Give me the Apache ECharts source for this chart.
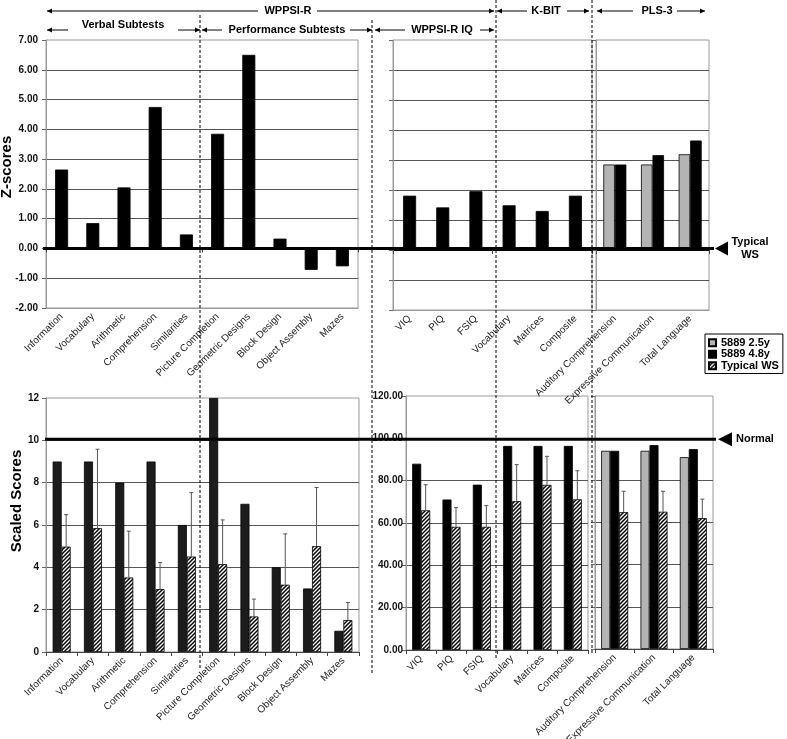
<!DOCTYPE html>
<html><head><meta charset="utf-8">
<script src="https://cdn.jsdelivr.net/npm/echarts@6/dist/echarts.min.js"></script>
<style>html,body{margin:0;padding:0;background:#fff}#c{width:787px;height:739px}</style>
</head><body><div id="c"></div>
<script>
// ---- categories ----
const subtests = ['Information','Vocabulary','Arithmetic','Comprehension','Similarities','Picture Completion','Geometric Designs','Block Design','Object Assembly','Mazes'];
const iqTests = ['VIQ','PIQ','FSIQ','Vocabulary','Matrices','Composite'];
const plsTests = ['Auditory Comprehension','Expressive Communication','Total Language'];
const seriesNames = ['5889 2.5y','5889 4.8y','Typical WS'];

// ---- Z-scores (top) ----
const zSub48 = [2.65,0.85,2.05,4.75,0.47,3.85,6.5,0.33,-0.72,-0.6];
const zIq48 = [1.81,1.42,1.96,1.49,1.30,1.81];
const zPls25 = [2.85,2.85,3.19];
const zPls48 = [2.85,3.16,3.65];

// ---- Scaled / standard scores (bottom) ----
const sSub48 = [9,9,8,9,6,12,7,4,3,1];
const sSubWS = [4.98,5.85,3.52,2.97,4.51,4.15,1.68,3.18,5.0,1.51];
const sSubWSHi = [6.49,9.58,5.71,4.23,7.53,6.24,2.5,5.58,7.77,2.34];
const sIq48 = [88.0,71.1,78.1,96.4,96.4,96.4];
const sIqWS = [66.0,58.2,58.2,70.3,78.0,71.2];
const sIqWSHi = [78.1,67.3,68.2,87.6,91.5,84.7];
const sPls25 = [94,94,91];
const sPls48 = [94,96.7,94.8];
const sPlsWS = [64.9,65.1,62.1];
const sPlsWSHi = [74.8,74.8,71.1];

// ---- axis ranges / reference levels ----
const zRange = [-2,7,1];
const scaledRange = [0,12,2];
const stdRange = [0,120,20];
const typicalZ = 0, normalScaled = 10, normalStd = 100;

const FONT = "'Liberation Sans', Arial, sans-serif";
const frameCol = '#9a9a9a', splitCol = '#555';
const BLACK = '#000', DARK = '#1c1c1c', GREY = '#b4b4b4';

function hatch(){
  const c=document.createElement('canvas'); c.width=4; c.height=4;
  const g=c.getContext('2d'); g.fillStyle='#fff'; g.fillRect(0,0,4,4);
  g.strokeStyle='#000'; g.lineWidth=1.5; g.beginPath();
  g.moveTo(0,4); g.lineTo(4,0); g.moveTo(-1,1); g.lineTo(1,-1); g.moveTo(3,5); g.lineTo(5,3);
  g.stroke(); return c;
}
const HATCH = {image:hatch(), repeat:'repeat'};

const gridDefs = [
  {left:46, top:40, width:312, height:268},
  {left:393, top:40, width:199, height:270},
  {left:596, top:40, width:113, height:270},
  {left:46, top:398, width:313, height:254},
  {left:406, top:396, width:182, height:254},
  {left:595, top:396, width:118, height:253}
];
const grid = gridDefs.map(g=>Object.assign({show:true, borderColor:frameCol, borderWidth:1, backgroundColor:'#fff', containLabel:false, outerBoundsMode:'none'}, g));

const cats = [subtests, iqTests, plsTests, subtests, iqTests, plsTests];
const xAxis = cats.map((data,gi)=>({
  type:'category', gridIndex:gi, data, position:'bottom',
  axisLine:{onZero:false, lineStyle:{color: gi<3 ? frameCol : '#444'}},
  axisTick:{show: gi>=3, alignWithLabel:false, length:4, lineStyle:{color:'#444'}},
  axisLabel:{interval:0, rotate:45, margin:7, fontFamily:FONT, fontSize:10, color:'#222'},
  splitLine:{show:false}
}));
[0,1,2].forEach(gi=>xAxis.push({
  type:'category', gridIndex:gi, data:cats[gi], position:'top',
  axisLine:{onZero:true, lineStyle:{color:'#000', width:2}},
  axisTick:{show:true, inside:true, length:4, alignWithLabel:false, lineStyle:{color:'#444'}},
  axisLabel:{show:false}, splitLine:{show:false}
}));

function yAx(gi, r, showLab, fmt, margin){
  return {type:'value', gridIndex:gi, min:r[0], max:r[1], interval:r[2],
    axisLine:{show:true, lineStyle:{color:frameCol}},
    axisTick:{show:true, length:4, lineStyle:{color:'#666'}},
    splitLine:{show:true, showMinLine:false, showMaxLine:false, lineStyle:{color:splitCol, width:1}},
    axisLabel:{show:showLab, formatter:fmt, margin:margin, fontFamily:FONT, fontSize:10, fontWeight:'bold', color:'#111'}};
}
const f2 = v=>v.toFixed(2), f0 = v=>String(v);
const yAxis = [
  yAx(0,zRange,true,f2,8), yAx(1,zRange,false,f2,8), yAx(2,zRange,false,f2,8),
  yAx(3,scaledRange,true,f0,7), yAx(4,stdRange,true,f2,3), yAx(5,stdRange,false,f2,3)
];

function bar(name, gi, data, color, w){
  return {type:'bar', name, xAxisIndex:gi, yAxisIndex:gi, data, barWidth:w, barGap:'0%',
    itemStyle:{color, borderColor:'#000', borderWidth:0.8}, emphasis:{disabled:true}};
}
function errBars(gi, lo, hi, dx){
  return {type:'custom', name:'err', xAxisIndex:gi, yAxisIndex:gi, silent:true, z:5,
    data: lo.map((v,i)=>[i,v,hi[i]]), encode:{x:0, y:[1,2]},
    renderItem:(p, api)=>{
      const a=api.coord([api.value(0), api.value(1)]);
      const b=api.coord([api.value(0), api.value(2)]);
      const x=a[0]+dx;
      return {type:'group', children:[
        {type:'line', shape:{x1:x,y1:a[1],x2:x,y2:b[1]}, style:{stroke:'#555', lineWidth:1}},
        {type:'line', shape:{x1:x-2,y1:b[1],x2:x+2,y2:b[1]}, style:{stroke:'#555', lineWidth:1}}
      ]};
    }};
}

const series = [
  bar(seriesNames[1],0,zSub48,BLACK,13),
  bar(seriesNames[1],1,zIq48,BLACK,13),
  bar(seriesNames[0],2,zPls25,GREY,11.5),
  bar(seriesNames[1],2,zPls48,BLACK,11.5),
  bar(seriesNames[1],3,sSub48,DARK,9),
  bar(seriesNames[2],3,sSubWS,HATCH,9),
  errBars(3,sSubWS,sSubWSHi,4.5),
  bar(seriesNames[1],4,sIq48,BLACK,9),
  bar(seriesNames[2],4,sIqWS,HATCH,9),
  errBars(4,sIqWS,sIqWSHi,4.5),
  bar(seriesNames[0],5,sPls25,GREY,9),
  bar(seriesNames[1],5,sPls48,BLACK,9),
  bar(seriesNames[2],5,sPlsWS,HATCH,9),
  errBars(5,sPlsWS,sPlsWSHi,9)
];

const chart = echarts.init(document.getElementById('c'), null, {renderer:'canvas'});
chart.setOption({
  animation:false, backgroundColor:'#fff',
  grid, xAxis, yAxis, series,
  legend:{data:seriesNames, orient:'vertical', left:705, top:334, itemWidth:7, itemHeight:7, itemGap:0,
    icon:'rect', borderColor:'#000', borderWidth:1, padding:[3,4,2,3], selectedMode:false,
    textStyle:{fontFamily:FONT, fontSize:11, fontWeight:'bold', color:'#000', lineHeight:11.5}}
});

// ---- annotations ----
const G=[];
function L(x1,y1,x2,y2,w,dash){G.push({type:'line', silent:true, z:100, shape:{x1,y1,x2,y2}, style:{stroke:'#000', lineWidth:w||1, lineDash:dash||null}});}
function aL(x,y){G.push({type:'polygon', silent:true, z:100, shape:{points:[[x,y],[x+5,y-2.5],[x+5,y+2.5]]}, style:{fill:'#000'}});}
function aR(x,y){G.push({type:'polygon', silent:true, z:100, shape:{points:[[x,y],[x-5,y-2.5],[x-5,y+2.5]]}, style:{fill:'#000'}});}
function T(text,x,y,o){G.push({type:'text', silent:true, z:100, x, y, style:Object.assign({text, fontFamily:FONT, fontSize:11, fontWeight:'bold', fill:'#000', align:'center', verticalAlign:'middle'}, o||{})});}

L(47,11,258,11); aL(47,11); T('WPPSI-R',288,11); L(317,11,494,11); aR(494,11);
L(497,11,527,11); aL(497,11); T('K-BIT',546,11); L(567,11,589,11); aR(589,11);
L(597,11,633,11); aL(597,11); T('PLS-3',657,11); L(677,11,705,11); aR(705,11);
L(47,30,68,30); aL(47,30); T('Verbal Subtests',123,25); L(178,30,200,30); aR(200,30);
L(202,30,222,30); aL(202,30); T('Performance Subtests',287,30); L(350,30,372,30); aR(372,30);
L(375,30,405,30); aL(375,30); T('WPPSI-R IQ',442,30); L(480,30,494,30); aR(494,30);

L(200,15,200,668,1,[3,2]); L(372,20,372,673,1,[3,2]);
L(496,0,496,658,1,[3,2]); L(592,0,592,655,1,[3,2]);

const y0 = chart.convertToPixel({yAxisIndex:0}, typicalZ);
const yN = (chart.convertToPixel({yAxisIndex:3}, normalScaled) + chart.convertToPixel({yAxisIndex:4}, normalStd))/2;
L(43,y0,714,y0,3);
G.push({type:'polygon', silent:true, z:100, shape:{points:[[715,y0],[728,y0-7],[728,y0+7]]}, style:{fill:'#000'}});
T('Typical',750,y0-6); T('WS',750,y0+7);
L(45,yN,716,yN,3);
G.push({type:'polygon', silent:true, z:100, shape:{points:[[718,yN],[732,yN-7],[732,yN+7]]}, style:{fill:'#000'}});
T('Normal',736,yN,{align:'left'});

G.push({type:'text', silent:true, z:100, x:7, y:167, rotation:Math.PI/2, style:{text:'Z-scores', fontFamily:FONT, fontSize:15, fontWeight:'bold', fill:'#000', align:'center', verticalAlign:'middle'}});
G.push({type:'text', silent:true, z:100, x:17, y:501, rotation:Math.PI/2, style:{text:'Scaled Scores', fontFamily:FONT, fontSize:15, fontWeight:'bold', fill:'#000', align:'center', verticalAlign:'middle'}});

chart.setOption({graphic:G});
</script>
</body></html>
